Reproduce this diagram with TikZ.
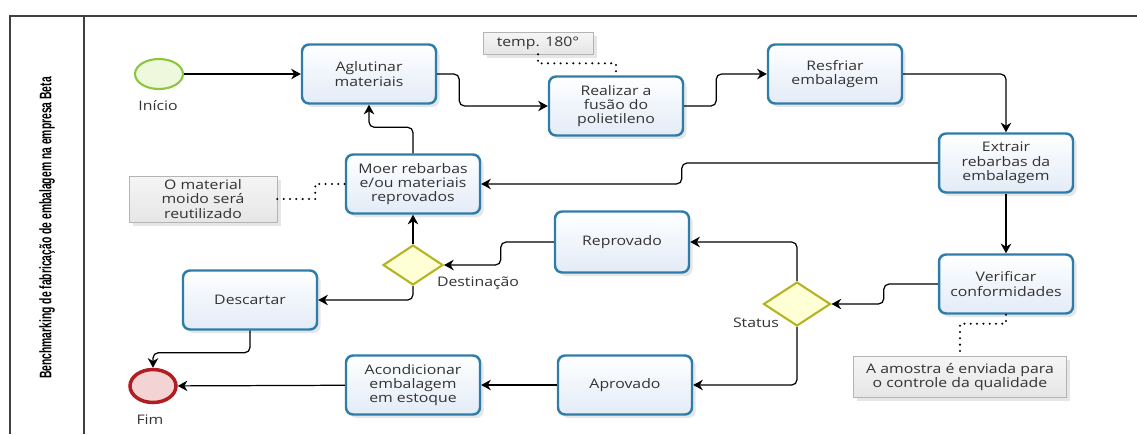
\documentclass[tikz,border=0pt]{standalone}
\usepackage{fontspec}
\setmainfont{Open Sans}[FakeStretch=1.2]
\newfontfamily\titlefont{Liberation Sans}[FakeStretch=0.62]
\usetikzlibrary{arrows.meta, shapes.geometric, shadows}
\definecolor{task-border}{HTML}{2E7DA8}
\definecolor{task-bg}{HTML}{E2EBF7}
\definecolor{gate-border}{HTML}{B5B523}
\definecolor{gate-bg}{HTML}{FFFFD6}
\definecolor{start-border}{HTML}{8CC63F}
\definecolor{start-bg}{HTML}{EEF8DC}
\definecolor{end-border}{HTML}{B01E23}
\definecolor{end-bg}{HTML}{F3D3D3}
\definecolor{note-bg}{HTML}{E6E6E6}
\definecolor{note-border}{HTML}{B4B4B4}
\definecolor{label-text}{HTML}{333333}

\begin{document}
\begin{tikzpicture}[x=0.02cm, y=-0.02cm,
    every node/.style={font=\fontsize{7.5}{8.2}\selectfont, text=label-text},
    task/.style={draw=task-border, line width=1.4pt, rounded corners=4pt,
      top color=white, bottom color=task-bg, align=center,
      minimum width=2.68cm, minimum height=1.18cm, inner sep=1pt,
      drop shadow={opacity=0.2, shadow xshift=2pt, shadow yshift=-2pt}},
    gateway/.style={diamond, draw=gate-border, line width=1.2pt, fill=gate-bg,
      inner sep=0pt, minimum width=1.2cm, minimum height=0.8cm},
    startevt/.style={ellipse, draw=start-border, line width=1.2pt, fill=start-bg,
      minimum width=0.96cm, minimum height=0.6cm, inner sep=0pt},
    endevt/.style={ellipse, draw=end-border, line width=2pt, fill=end-bg,
      minimum width=0.92cm, minimum height=0.66cm, inner sep=0pt},
    note/.style={draw=note-border, top color=note-bg!40, bottom color=note-bg,
      align=center, inner sep=1pt,
      drop shadow={opacity=0.2, shadow xshift=2pt, shadow yshift=-2pt}},
    flow/.style={-{Stealth[length=5.5pt, width=6pt]}, line width=0.7pt,
      rounded corners=3pt},
    assoc/.style={line width=1.3pt, dash pattern=on 0pt off 3.6pt, line cap=round},
    frame/.style={line width=1pt, color=black!75}]
    % Coordinates are given in pixels of the reference image (y grows downward)
    %   pool frame: top at y=16, left edge x=10, lane header line x=84
    %   tasks: 134 x 59 px, gateways about 60 x 40 px
    \useasboundingbox (0,0) rectangle (1137,434);
    \draw[frame] (1137,16) -- (10,16) -- (10,434);
    \draw[frame] (84,16) -- (84,434);
    \node[rotate=90, font=\titlefont\bfseries\fontsize{9.5}{10}\selectfont, text=black]
      (titulo) at (47,228) {Benchmarking de fabricação de embalagem na empresa Beta};

    % events
    \node[startevt] (inicio) at (159,74) {};
    \node (inicioLbl) at (158,106) {Início};
    \node[endevt] (fim) at (153,386) {};
    \node (fimLbl) at (150,420) {Fim};

    % tasks
    \node[task] (aglutinar) at (369,74) {Aglutinar\\materiais};
    \node[task] (fusao) at (616,106) {Realizar a\\fusão do\\polietileno};
    \node[task] (resfriar) at (835,74) {Resfriar\\embalagem};
    \node[task] (extrair) at (1006,163) {Extrair\\rebarbas da\\embalagem};
    \node[task] (moer) at (413,184) {Moer rebarbas\\e/ou materiais\\reprovados};
    \node[task, minimum height=1.22cm] (reprovado) at (622,242) {Reprovado};
    \node[task] (descartar) at (250,300) {Descartar};
    \node[task] (verificar) at (1006,284) {Verificar\\conformidades};
    \node[task] (aprovado) at (625,385) {Aprovado};
    \node[task] (acondicionar) at (413,385) {Acondicionar\\embalagem\\em estoque};

    % gateways
    \node[gateway] (destinacao) at (413,265) {};
    \node (destinacaoLbl) at (478,283) {Destinação};
    \node[gateway, minimum width=1.34cm, minimum height=0.88cm] (status) at (797,304) {};
    \node (statusLbl) at (756,323) {Status};

    % annotations
    \node[note, minimum width=2.2cm, minimum height=0.44cm] (notaTemp) at (538,43) {temp. 180°};
    \node[note, minimum width=2.96cm, minimum height=0.92cm] (notaMoido) at (203,199)
      {O material\\moido será\\reutilizado};
    \node[note, minimum width=4.26cm, minimum height=0.82cm] (notaAmostra) at (960,377)
      {A amostra é enviada para\\o controle da qualidade};

    % sequence flows
    \draw[flow] (inicio) -- (aglutinar);
    \draw[flow] (aglutinar.east) -- ++(22,0) |- (fusao.west);
    \draw[flow] (fusao.east) -- ++(32,0) |- (resfriar.west);
    \draw[flow] (resfriar.east) -| (extrair.north);
    \draw[flow] (extrair) -- (verificar);
    \draw[flow] (extrair.west) -- ++(-256,0) |- (moer.east);
    \draw[flow] (moer.north) -- ++(0,-26) -| (aglutinar.south);
    \draw[flow] (verificar.west) -- ++(-54,0) |- (status.east);
    \draw[flow] (status.north) |- (reprovado.east);
    \draw[flow] (status.south) |- (aprovado.east);
    \draw[flow] (aprovado) -- (acondicionar);
    \draw[flow] (acondicionar) -- (fim);
    \draw[flow] (reprovado.west) -- ++(-53,0) |- (destinacao.east);
    \draw[flow] (destinacao) -- (moer);
    \draw[flow] (destinacao.south) |- (descartar.east);
    \draw[flow] (descartar.south) -- ++(0,22) -| (fim.north);

    % associations
    \draw[assoc] (notaTemp.south) -- ++(0,9) -| (fusao.north);
    \draw[assoc] (notaMoido.east) -- ++(38,0) |- (moer.west);
    \draw[assoc] (verificar.south) -- ++(0,9) -| (notaAmostra.north);
  \end{tikzpicture}
\end{document}
